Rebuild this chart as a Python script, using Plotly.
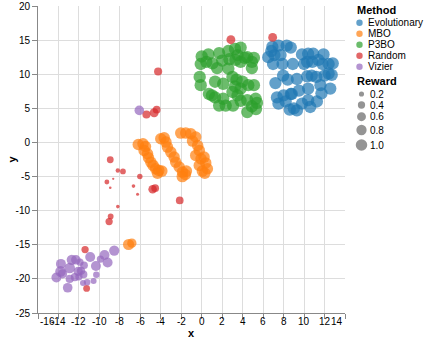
import numpy as np
import plotly.graph_objects as go

# ---------------- data ----------------
methods = ["Evolutionary", "MBO", "P3BO", "Random", "Vizier"]
colors = ["#1f77b4", "#ff7f0e", "#2ca02c", "#d62728", "#9467bd"]

evo_x = [6.9, 7.5, 8.3, 8.7, 7.1, 6.5, 7.7, 6.97, 7.9, 8.9, 9.8, 10.4, 10.9, 10.3, 10.8, 11.8, 12.4,
         11.4, 12.4, 10.0, 11.9, 12.8, 7.2, 7.95, 8.4, 9.3, 10.3, 10.75, 11.2, 11.6, 12.56, 10.4, 9.5,
         8.7, 7.35, 8.0, 8.8, 7.5, 8.2, 9.0, 9.8, 10.4, 11.25, 10.6, 12.0, 12.7, 11.7, 9.3, 8.6, 6.8]
evo_y = [14.0, 14.2, 14.2, 13.9, 12.8, 12.5, 12.8, 11.5, 11.5, 11.5, 12.9, 13.0, 13.0, 11.8, 11.8,
         11.5, 11.5, 12.1, 10.1, 11.5, 12.9, 11.6, 8.7, 9.8, 9.2, 9.3, 9.7, 9.8, 9.6, 8.4, 7.9, 7.9,
         7.6, 7.1, 6.6, 6.9, 7.1, 5.7, 6.0, 5.0, 5.7, 6.2, 6.0, 5.2, 9.8, 9.9, 7.2, 4.7, 4.8, 13.4]
evo_r = [1.15] * len(evo_x)

mbo_x = [-6.2, -5.74, -5.5, -5.63, -5.3, -5.2, -4.97, -4.75, -4.5, -4.2, -3.9, -4.32,
         -4.0, -3.67, -3.5, -3.35, -3.02, -2.7, -2.54, -2.2, -1.88, -1.6, -1.5, -1.9,
         -2.05, -1.56, -1.07, -0.59, -0.9, -0.4, -0.24, -0.59, -0.07, 0.23, 0.39, -0.24, 0.55, 0.06, 0.3,
         -7.15, -6.83]
mbo_y = [-0.3, -0.2, -0.6, -1.17, -1.66, -2.25, -2.9, -3.37, -3.86, -4.1, -4.2, -4.5,
         0.54, 0.68, 0.05, -0.68, -1.41, -2.15, -2.9, -3.6, -4.35, -4.7, -4.2, -5.0,
         1.37, 1.37, 1.27, 0.8, 0.2, -0.44, -1.17, -1.9, -2.4, -2.15, -3.0, -3.37, -3.86, -4.2, -4.5,
         -14.96, -14.76]
mbo_r = [1.0] * 39 + [0.95, 0.65]

p3_x = [0.0, 0.65, 1.7, 2.6, 3.25, 3.8, 3.5, 2.7, 4.45, 5.1, 4.9, -0.1, 0.45, 1.05, 1.5, 2.0, 3.8,
        4.2, 4.9, 3.3, -0.2, -0.1, 1.3, 2.1, 3.0, 3.4, 3.97, 4.55, 5.1, 3.25, 3.8, 0.7, 1.3, 2.1,
        3.0, 3.5, 3.8, 3.06, 2.34, 1.7, 4.45, 5.27, 5.4, 4.45, 4.9, 5.3, 2.6, 1.0]
p3_y = [12.6, 12.9, 13.1, 13.4, 13.7, 13.9, 12.8, 12.2, 12.5, 12.4, 11.8, 11.5, 11.8, 11.6, 10.9,
        12.0, 11.8, 12.4, 10.9, 12.1, 9.6, 8.4, 8.9, 8.6, 9.6, 9.2, 8.9, 8.4, 8.4, 8.2, 7.9, 7.1,
        6.6, 6.4, 7.4, 6.9, 6.1, 5.4, 5.4, 5.4, 6.2, 6.4, 5.8, 4.45, 5.3, 4.9, 10.8, 6.9]
p3_r = [1.15] * len(p3_x)

rnd_x = [2.85, 6.93, -4.26, -5.4, -4.65, -4.4, -8.94, -8.2, -7.7, -9.27, -8.65, -8.94, -6.05,
         -6.67, -6.27, -4.8, -4.55, -2.15, -8.2, -8.9, -9.05, -11.4, -11.25]
rnd_y = [15.06, 15.4, 10.4, 4.1, 4.35, 4.8, -2.54, -4.1, -4.25, -5.8, -5.33, -6.65, -5.0,
         -6.4, -7.6, -6.85, -6.7, -8.5, -9.4, -10.85, -11.6, -15.7, -21.4]
rnd_r = [0.6, 0.6, 0.5, 0.5, 0.6, 0.45, 0.35, 0.15, 0.25, 0.18, 0.04, 0.05, 0.22,
         0.1, 0.07, 0.55, 0.45, 0.45, 0.1, 0.25, 0.4, 0.4, 0.35]

viz_x = [-14.2, -13.76, -13.8, -13.6, -12.9, -13.1, -12.7, -12.3, -12.4, -12.9, -12.07, -11.8,
         -11.55, -11.5, -11.6, -11.2, -10.9, -10.34, -10.3, -10.57, -9.9, -9.5, -9.2, -8.55,
         -11.9, -12.0, -6.1]
viz_y = [-19.8, -17.8, -18.9, -19.25, -18.4, -21.3, -17.2, -17.2, -19.75, -20.0, -18.9, -18.8,
         -19.35, -18.0, -20.6, -20.5, -16.8, -18.1, -19.4, -20.3, -17.1, -16.5, -17.6, -15.85,
         -17.55, -19.7, 4.7]
viz_r = [0.75, 0.75, 0.85, 0.65, 0.85, 0.7, 0.8, 0.7, 0.5, 0.5, 0.65, 0.55,
         0.45, 0.45, 0.28, 0.32, 0.75, 0.75, 0.32, 0.28, 0.4, 0.75, 0.75, 0.8,
         0.4, 0.4, 0.7]

legend_rewards = [0.2, 0.4, 0.6, 0.8, 1.0]
x_ticks = list(range(-16, 15, 2))
y_ticks = list(range(-25, 21, 5))

# ---------------- figure ----------------
W, H = 426, 341
L, R, T, B = 38, 81, 6, 28
PW, PH = W - L - R, H - T - B
D1 = 11.5  # diameter (px) for reward 1.0


def diam(r):
    return [D1 * np.sqrt(v) for v in r]


series = [(evo_x, evo_y, evo_r), (mbo_x, mbo_y, mbo_r), (p3_x, p3_y, p3_r),
          (rnd_x, rnd_y, rnd_r), (viz_x, viz_y, viz_r)]

fig = go.Figure()
for name, col, (xs, ys, rs) in zip(methods, colors, series):
    fig.add_trace(go.Scatter(
        x=xs, y=ys, mode="markers", name=name, showlegend=False,
        marker=dict(color=col, size=diam(rs), sizemode="diameter", opacity=0.7,
                    line=dict(width=0)),
    ))

FONT = "Liberation Sans, Arial, sans-serif"
axis_common = dict(showgrid=True, gridcolor="#dddddd", gridwidth=1, zeroline=False,
                   showline=True, linecolor="#888888", linewidth=1,
                   ticks="outside", ticklen=5, tickcolor="#888888", automargin=False,
                   tickfont=dict(family=FONT, size=10, color="#000000"))

fig.update_layout(
    width=W, height=H, margin=dict(l=L, r=R, t=T, b=B, autoexpand=False),
    paper_bgcolor="white", plot_bgcolor="white",
    xaxis=dict(range=[-16, 14], tickvals=x_ticks, showticklabels=False, **axis_common),
    yaxis=dict(range=[-25, 20], tickvals=y_ticks, ticktext=[str(v) for v in y_ticks], **axis_common),
    font=dict(family=FONT),
)

annotations = []
# x tick labels (flush at ends)
for i, v in enumerate(x_ticks):
    anchor = "left" if i == 0 else ("right" if i == len(x_ticks) - 1 else "center")
    annotations.append(dict(x=v, xref="x", y=0, yref="paper", yanchor="top", xanchor=anchor,
                            text=str(v), showarrow=False, yshift=-1,
                            font=dict(family=FONT, size=10, color="#000000")))

# axis titles
annotations.append(dict(x=0.5, xref="paper", y=0, yref="paper", yanchor="top", text="<b>x</b>",
                        showarrow=False, yshift=-12, font=dict(family=FONT, size=11, color="#000")))
annotations.append(dict(x=0, xref="paper", y=0.5, yref="paper", xanchor="right", text="<b>y</b>",
                        textangle=-90, showarrow=False, xshift=-19,
                        font=dict(family=FONT, size=11, color="#000")))


def px2paper(px, py):
    return (px - L) / PW, (T + PH - py) / PH


shapes = []
# legend: Method
tx, ty = px2paper(355, 10)
annotations.append(dict(x=tx, y=ty, xref="paper", yref="paper", xanchor="left", yanchor="middle",
                        text="<b>Method</b>", showarrow=False,
                        font=dict(family=FONT, size=11, color="#000")))
for i, (name, col) in enumerate(zip(methods, colors)):
    py = 22.7 + i * 11
    cx, cy = px2paper(359.5, py)
    shapes.append(dict(type="circle", xref="paper", yref="paper", xsizemode="pixel",
                       ysizemode="pixel", xanchor=cx, yanchor=cy, x0=-3.2, x1=3.2, y0=-3.2, y1=3.2,
                       fillcolor=col, opacity=0.7, line=dict(width=0)))
    lx, ly = px2paper(366, py)
    annotations.append(dict(x=lx, y=ly, xref="paper", yref="paper", xanchor="left",
                            yanchor="middle", text=name, showarrow=False,
                            font=dict(family=FONT, size=10, color="#000")))

# legend: Reward
tx, ty = px2paper(355, 81)
annotations.append(dict(x=tx, y=ty, xref="paper", yref="paper", xanchor="left", yanchor="middle",
                        text="<b>Reward</b>", showarrow=False,
                        font=dict(family=FONT, size=11, color="#000")))
ys_leg = [94, 105, 116.7, 130, 145]
for r, py in zip(legend_rewards, ys_leg):
    rad = D1 * np.sqrt(r) / 2
    cx, cy = px2paper(361.5, py)
    shapes.append(dict(type="circle", xref="paper", yref="paper", xsizemode="pixel",
                       ysizemode="pixel", xanchor=cx, yanchor=cy, x0=-rad, x1=rad, y0=-rad, y1=rad,
                       fillcolor="#888888", opacity=0.9, line=dict(width=0)))
    lx, ly = px2paper(368, py)
    annotations.append(dict(x=lx, y=ly, xref="paper", yref="paper", xanchor="left",
                            yanchor="middle", text=f"{r:.1f}", showarrow=False,
                            font=dict(family=FONT, size=10, color="#000")))

fig.update_layout(annotations=annotations, shapes=shapes)
fig.write_html("out.html", config={"displayModeBar": False})

# remove the default page margin so the figure sits at the window's top-left corner
with open("out.html", encoding="utf-8") as f:
    html = f.read()
html = html.replace("<body>", '<body style="margin:0;padding:0;overflow:hidden">', 1)
with open("out.html", "w", encoding="utf-8") as f:
    f.write(html)
